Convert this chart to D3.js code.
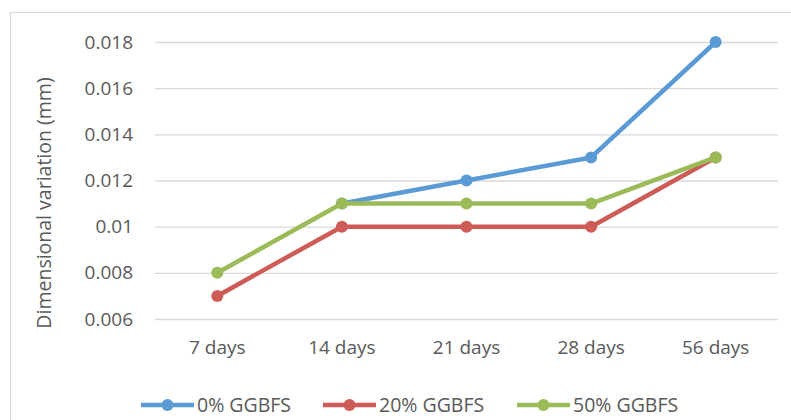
<!DOCTYPE html>
<html>
<head>
<meta charset="utf-8">
<script src="https://cdn.jsdelivr.net/npm/d3@7"></script>
<style>
  body { margin: 0; background: #fff; }
  text { font-family: "Open Sans", "Liberation Sans", sans-serif; fill: #595959; }
</style>
</head>
<body>
<script>
var categories = ["7 days", "14 days", "21 days", "28 days", "56 days"];
var seriesNames = ["0% GGBFS", "20% GGBFS", "50% GGBFS"];
var ggbfs0 = [null, 0.011, 0.012, 0.013, 0.018];
var ggbfs20 = [0.007, 0.010, 0.010, 0.010, 0.013];
var ggbfs50 = [0.008, 0.011, 0.011, 0.011, 0.013];
var yTicks = [0.006, 0.008, 0.010, 0.012, 0.014, 0.016, 0.018];
var yTickLabels = ["0.006", "0.008", "0.01", "0.012", "0.014", "0.016", "0.018"];

var width = 791, height = 420,
    margin = { top: 42, right: 13, bottom: 101, left: 155 },
    colors = ["#5b9bd5", "#cd5c57", "#9bbb59"];

var series = [ggbfs0, ggbfs20, ggbfs50];

var svg = d3.select("body").append("svg")
    .attr("width", width)
    .attr("height", height);

// chart border
svg.append("rect")
    .attr("x", 10.5).attr("y", 12.5)
    .attr("width", 800).attr("height", 420)
    .attr("fill", "none").attr("stroke", "#d9d9d9");

var g = svg.append("g").attr("transform", `translate(${margin.left},${margin.top})`);
var w = width - margin.left - margin.right,
    h = height - margin.top - margin.bottom;

var x = d3.scaleBand().domain(categories).range([0, w]);
var y = d3.scaleLinear().domain([0.006, 0.018]).range([h, 0]);

// gridlines + y labels
var yAxis = d3.axisLeft(y).tickValues(yTicks).tickSize(-w)
    .tickFormat((d, i) => yTickLabels[i]);
g.append("g").attr("class", "y axis").call(yAxis)
    .call(s => s.select(".domain").remove())
    .call(s => s.selectAll("line").attr("stroke", "#d9d9d9").attr("stroke-width", 1.3))
    .call(s => s.selectAll("text").attr("x", -22).style("font-size", "19px"));

var xAxis = d3.axisBottom(x).tickSize(0);
g.append("g").attr("class", "x axis")
    .attr("transform", `translate(0,${h})`)
    .call(xAxis)
    .call(s => s.select(".domain").remove())
    .call(s => s.selectAll("text").attr("y", 22).style("font-size", "19px"));

// y axis title
svg.append("text")
    .attr("transform", "translate(51,203) rotate(-90)")
    .attr("text-anchor", "middle")
    .style("font-size", "19.5px")
    .text("Dimensional variation (mm)");

var line = d3.line()
    .defined(d => d != null)
    .x((d, i) => x(categories[i]) + x.bandwidth() / 2)
    .y(d => y(d));

series.forEach(function (vals, k) {
    var data = vals.map((v, i) => ({ v: v, i: i }));
    g.append("path")
        .datum(vals)
        .attr("fill", "none")
        .attr("stroke", colors[k])
        .attr("stroke-width", 4.5)
        .attr("stroke-linejoin", "round")
        .attr("d", line);
    g.selectAll(".pt" + k)
        .data(data.filter(d => d.v != null))
        .enter().append("circle")
        .attr("class", "pt" + k)
        .attr("cx", d => x(categories[d.i]) + x.bandwidth() / 2)
        .attr("cy", d => y(d.v))
        .attr("r", 6)
        .attr("fill", colors[k]);
});

// legend
var legendX = [141, 323, 517];
var legend = svg.append("g").attr("transform", "translate(0,405)");
seriesNames.forEach(function (name, k) {
    var lg = legend.append("g").attr("transform", `translate(${legendX[k]},0)`);
    lg.append("line").attr("x1", 0).attr("x2", 53).attr("y1", 0).attr("y2", 0)
        .attr("stroke", colors[k]).attr("stroke-width", 4.5);
    lg.append("circle").attr("cx", 26.5).attr("cy", 0).attr("r", 6).attr("fill", colors[k]);
    lg.append("text").attr("x", 56).attr("y", 0).attr("dy", "0.35em")
        .style("font-size", "19.5px").text(name);
});
</script>
</body>
</html>
